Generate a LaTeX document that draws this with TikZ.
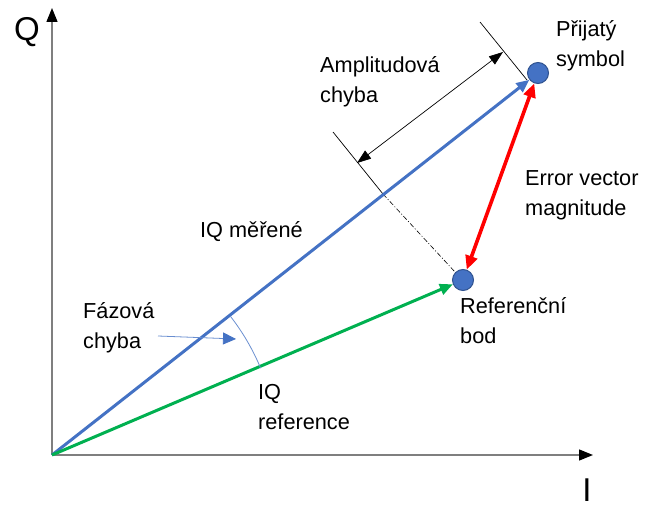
\documentclass[tikz,border=0pt]{standalone}
\usepackage{fontspec}
\setmainfont{Liberation Sans}
\usetikzlibrary{arrows.meta,calc}
\definecolor{ablue}{HTML}{4472C4}
\definecolor{dblue}{HTML}{2F528F}
\definecolor{agreen}{HTML}{00B050}
\definecolor{agray}{HTML}{7F7F7F}
\begin{document}
\begin{tikzpicture}[x=1pt,y=-1pt,
  lbl/.style={anchor=west,align=left,font=\fontsize{21.7}{30}\selectfont,inner sep=0pt},
  axlbl/.style={font=\fontsize{33}{33}\selectfont,inner sep=0pt},
  axis/.style={agray,line width=1.4pt,-{Triangle[length=14pt,width=11pt,color=black]}},
  pt/.style={circle,fill=ablue,draw=dblue,line width=1pt,minimum size=21pt,inner sep=0pt},
  vec/.style={line width=3pt,-{Triangle[length=13pt,width=11pt]}},
  dim/.style={black,line width=0.7pt},
  dimarrow/.style={dim,{Triangle[length=14pt,width=10pt]}-{Triangle[length=14pt,width=10pt]}}]
\useasboundingbox (0,0) rectangle (645,508);
\coordinate (O) at (52,455);
\coordinate (Qend) at (52,8);
\coordinate (Iend) at (593,455);
\draw[axis] (O) -- (Qend);
\draw[axis] (O) -- (Iend);
\node[axlbl] (Q) at (27,32) {Q};
\node[axlbl] (I) at (587,490) {I};
\node[pt] (rx) at (538,73) {};
\node[pt] (ref) at (463,280) {};
% dimension
\coordinate (t1a) at (480,22);
\coordinate (t1b) at (527,80);
\coordinate (t2a) at (333,132);
\coordinate (t2b) at (383,194);
\coordinate (d1) at (503,52);
\coordinate (d2) at (357,163);
\draw[dim] (t1a) -- (t1b);
\draw[dim] (t2a) -- (t2b);
\draw[dim,line width=0.6pt,dash pattern=on 5pt off 2pt on 1pt off 2pt] (t2b) -- (ref.north west);
\draw[dimarrow] (d1) -- (d2);
% vectors
\draw[vec,ablue] (O) -- (rx);
\draw[vec,agreen] (O) -- (ref);
\draw[red,line width=3.6pt,{Triangle[length=14pt,width=12pt]}-{Triangle[length=14pt,width=12pt]}] (rx) -- (ref);
% phase arc
\draw[ablue!80,line width=0.8pt] ($(O)+(-37.9:226)$) arc[start angle=-37.9,end angle=-22.6,radius=226];
\coordinate (fa1) at (158,336);
\coordinate (fa2) at (236,339);
\draw[ablue!80,line width=0.8pt,-{Triangle[length=13pt,width=12pt,color=ablue]}] (fa1) -- (fa2);
% labels
\node[lbl] (l1) at (556,46) {Přijatý\\symbol};
\node[lbl] (l2) at (320,82) {Amplitudová\\chyba};
\node[lbl] (l3) at (525,195) {Error vector\\magnitude};
\node[lbl] (l4) at (200,232) {IQ měřené};
\node[lbl] (l5) at (460,321) {Referenční\\bod};
\node[lbl] (l6) at (83,328) {Fázová\\chyba};
\node[lbl] (l7) at (258,407) {IQ\\reference};
\end{tikzpicture}
\end{document}
